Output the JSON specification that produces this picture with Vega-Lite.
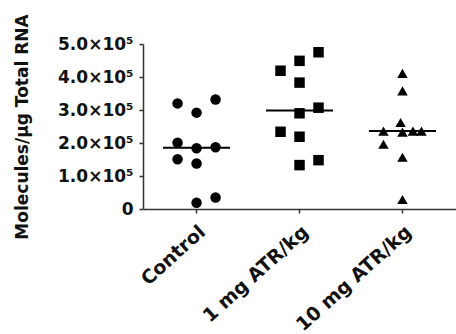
{
  "$schema": "https://vega.github.io/schema/vega-lite/v6.json",
  "autosize": {"type": "none"},
  "width": 313,
  "height": 165,
  "padding": {"left": 143, "top": 44, "right": 0, "bottom": 125},
  "background": "white",
  "config": {
    "view": {"stroke": null},
    "font": "DejaVu Sans",
    "axis": {"grid": false, "domainColor": "#333", "domainWidth": 1.5, "tickColor": "#333", "tickWidth": 1.5, "tickSize": 4, "labelFont": "DejaVu Sans", "labelFontWeight": "bold", "labelColor": "#111", "titleFont": "DejaVu Sans", "titleFontWeight": "bold", "titleColor": "#111"}
  },
  "data": {
    "values": [
      {"group": "Control", "slot": -1, "value": 320000},
      {"group": "Control", "slot": 1, "value": 332000},
      {"group": "Control", "slot": 0, "value": 292000},
      {"group": "Control", "slot": -1, "value": 201000},
      {"group": "Control", "slot": 0, "value": 184000},
      {"group": "Control", "slot": 1, "value": 187000},
      {"group": "Control", "slot": -1, "value": 151000},
      {"group": "Control", "slot": 0, "value": 138000},
      {"group": "Control", "slot": 0, "value": 19000},
      {"group": "Control", "slot": 1, "value": 35000},
      {"group": "1 mg ATR/kg", "slot": 1, "value": 475000},
      {"group": "1 mg ATR/kg", "slot": 0, "value": 449000},
      {"group": "1 mg ATR/kg", "slot": -1, "value": 419000},
      {"group": "1 mg ATR/kg", "slot": 0, "value": 383000},
      {"group": "1 mg ATR/kg", "slot": 1, "value": 307000},
      {"group": "1 mg ATR/kg", "slot": 0, "value": 290000},
      {"group": "1 mg ATR/kg", "slot": -1, "value": 234000},
      {"group": "1 mg ATR/kg", "slot": 0, "value": 219000},
      {"group": "1 mg ATR/kg", "slot": 1, "value": 148000},
      {"group": "1 mg ATR/kg", "slot": 0, "value": 133000},
      {"group": "10 mg ATR/kg", "slot": 0, "value": 411000},
      {"group": "10 mg ATR/kg", "slot": 0, "value": 358000},
      {"group": "10 mg ATR/kg", "slot": -0.1, "value": 262000},
      {"group": "10 mg ATR/kg", "slot": -1, "value": 236000},
      {"group": "10 mg ATR/kg", "slot": 0, "value": 233000},
      {"group": "10 mg ATR/kg", "slot": 0.55, "value": 236000},
      {"group": "10 mg ATR/kg", "slot": 1, "value": 236000},
      {"group": "10 mg ATR/kg", "slot": -1, "value": 196000},
      {"group": "10 mg ATR/kg", "slot": 0, "value": 157000},
      {"group": "10 mg ATR/kg", "slot": 0, "value": 29000}
    ]
  },
  "encoding": {
    "x": {
      "field": "group", "type": "nominal",
      "sort": ["Control", "1 mg ATR/kg", "10 mg ATR/kg"],
      "scale": {"paddingInner": 0, "paddingOuter": 0.02},
      "axis": {"title": null, "labelAngle": -42, "labelAlign": "right", "labelBaseline": "top", "labelFontSize": 19, "labelPadding": 9}
    },
    "y": {
      "field": "value", "type": "quantitative",
      "scale": {"domain": [0, 500000], "nice": false},
      "axis": {
        "title": "Molecules/µg Total RNA",
        "titleFontSize": 17,
        "titleX": -121,
        "titleBaseline": "middle",
        "values": [0, 100000, 200000, 300000, 400000, 500000],
        "labelExpr": "datum.value == 0 ? '0' : format(datum.value / 100000, '.1f') + '×10⁵'",
        "labelFontSize": 17,
        "labelPadding": 6
      }
    }
  },
  "layer": [
    {
      "mark": {"type": "point", "filled": true, "opacity": 1, "size": 110, "color": "black"},
      "encoding": {
        "xOffset": {"field": "slot", "type": "quantitative", "scale": {"domain": [-1, 1], "range": [32.5, 70.5]}},
        "shape": {"field": "group", "type": "nominal", "legend": null, "scale": {"domain": ["Control", "1 mg ATR/kg", "10 mg ATR/kg"], "range": ["circle", "square", "triangle-up"]}}
      }
    },
    {
      "mark": {"type": "tick", "color": "black", "thickness": 2, "size": 67},
      "encoding": {
        "y": {"aggregate": "median", "field": "value", "type": "quantitative"}
      }
    }
  ]
}
